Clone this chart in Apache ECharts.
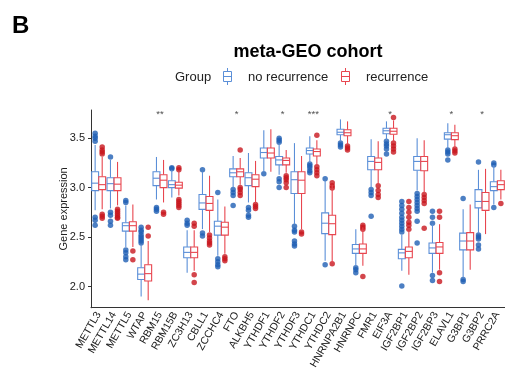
<!DOCTYPE html>
<html>
<head>
<meta charset="utf-8">
<script src="https://cdn.jsdelivr.net/npm/echarts@6/dist/echarts.min.js"></script>
<style>
  html, body { margin: 0; padding: 0; background: #fff; }
  #chart { width: 505px; height: 372px; }
</style>
</head>
<body>
<div id="chart"></div>
<script>
/* ---------- data ---------- */

const genes = [
  'METTL3', 'METTL14', 'METTL5', 'WTAP', 'RBM15', 'RBM15B', 'ZC3H13', 'CBLL1', 'ZCCHC4',
  'FTO', 'ALKBH5', 'YTHDF1', 'YTHDF2', 'YTHDF3', 'YTHDC1', 'YTHDC2', 'HNRNPA2B1', 'HNRNPC',
  'FMR1', 'EIF3A', 'IGF2BP1', 'IGF2BP2', 'IGF2BP3', 'ELAVL1', 'G3BP1', 'G3BP2', 'PRRC2A',
];

// [whisker low, Q1, median, Q3, whisker high]
const noRecurrence = [
  [2.77, 2.97, 3.045, 3.16, 3.43],
  [2.79, 2.97, 3.04, 3.10, 3.28],
  [2.40, 2.56, 2.615, 2.645, 2.82],
  [1.90, 2.07, 2.125, 2.19, 2.42],
  [2.88, 3.02, 3.095, 3.16, 3.31],
  [2.90, 3.00, 3.03, 3.07, 3.18],
  [2.14, 2.29, 2.345, 2.40, 2.57],
  [2.58, 2.78, 2.845, 2.93, 3.16],
  [2.31, 2.52, 2.61, 2.66, 2.88],
  [3.00, 3.11, 3.15, 3.19, 3.32],
  [2.85, 3.02, 3.10, 3.15, 3.35],
  [3.16, 3.30, 3.355, 3.40, 3.58],
  [3.13, 3.23, 3.28, 3.315, 3.44],
  [2.63, 2.94, 3.08, 3.16, 3.45],
  [3.25, 3.34, 3.375, 3.40, 3.52],
  [2.26, 2.535, 2.64, 2.745, 3.07],
  [3.47, 3.535, 3.56, 3.59, 3.69],
  [2.21, 2.335, 2.38, 2.425, 2.58],
  [3.00, 3.18, 3.265, 3.315, 3.49],
  [3.48, 3.545, 3.575, 3.60, 3.67],
  [2.16, 2.28, 2.34, 2.375, 2.52],
  [2.97, 3.175, 3.265, 3.315, 3.50],
  [2.14, 2.335, 2.39, 2.44, 2.63],
  [3.40, 3.49, 3.535, 3.555, 3.65],
  [2.09, 2.37, 2.46, 2.54, 2.78],
  [2.54, 2.795, 2.86, 2.98, 3.18],
  [2.83, 2.97, 3.01, 3.06, 3.23],
];

const recurrence = [
  [2.78, 2.98, 3.03, 3.11, 3.31],
  [2.82, 2.97, 3.035, 3.10, 3.26],
  [2.40, 2.56, 2.615, 2.655, 2.83],
  [1.86, 2.055, 2.13, 2.22, 2.46],
  [2.85, 3.00, 3.075, 3.13, 3.28],
  [2.92, 2.995, 3.025, 3.055, 3.16],
  [2.16, 2.29, 2.345, 2.40, 2.57],
  [2.55, 2.77, 2.84, 2.91, 3.12],
  [2.33, 2.52, 2.60, 2.65, 2.81],
  [3.03, 3.11, 3.16, 3.19, 3.30],
  [2.85, 3.01, 3.085, 3.13, 3.27],
  [3.16, 3.30, 3.35, 3.40, 3.59],
  [3.15, 3.23, 3.275, 3.30, 3.38],
  [2.58, 2.94, 3.075, 3.16, 3.32],
  [3.23, 3.32, 3.365, 3.39, 3.48],
  [2.24, 2.525, 2.635, 2.72, 3.03],
  [3.44, 3.525, 3.555, 3.585, 3.67],
  [2.21, 2.335, 2.38, 2.43, 2.60],
  [3.03, 3.18, 3.255, 3.30, 3.47],
  [3.47, 3.54, 3.57, 3.60, 3.68],
  [2.12, 2.29, 2.355, 2.40, 2.55],
  [2.95, 3.17, 3.265, 3.315, 3.48],
  [2.17, 2.335, 2.40, 2.445, 2.63],
  [3.40, 3.485, 3.525, 3.555, 3.635],
  [2.17, 2.37, 2.46, 2.545, 2.83],
  [2.53, 2.77, 2.86, 2.95, 3.19],
  [2.88, 2.98, 3.03, 3.07, 3.18],
];

const noRecurrenceOutliers = [
  [3.55, 3.52, 3.50, 3.47, 2.70, 2.67, 2.62],
  [3.31, 2.75, 2.72, 2.66, 2.62],
  [2.87, 2.85, 2.37, 2.34, 2.30, 2.27],
  [2.60, 2.57, 2.55, 2.52, 2.50, 2.48, 2.46, 2.44],
  [2.80, 2.78, 2.76],
  [3.20, 3.19],
  [2.67, 2.64, 2.62],
  [3.18, 2.54, 2.51],
  [2.95, 2.28, 2.25, 2.22, 2.20],
  [2.98, 2.95, 2.92, 2.82],
  [2.80, 2.77, 2.72, 2.70],
  [3.14],
  [3.50, 3.48, 3.46, 3.09, 3.06, 3.00],
  [2.61, 2.57, 2.55, 2.46, 2.43, 2.41],
  [3.24, 3.22, 3.20, 3.17, 3.15],
  [3.09, 2.22],
  [3.45, 3.43, 3.41],
  [2.19, 2.17, 2.14],
  [2.98, 2.95, 2.92, 2.71],
  [3.47, 3.44, 3.42, 3.39, 3.34],
  [2.86, 2.82, 2.78, 2.74, 2.70, 2.67, 2.64, 2.61, 2.58, 2.55, 2.005],
  [2.94, 2.91, 2.88, 2.85, 2.82, 2.79, 2.76, 2.66, 2.44],
  [2.76, 2.70, 2.64, 2.11, 2.06],
  [3.38, 3.36, 3.34, 3.28],
  [2.89, 2.07, 2.05],
  [3.26, 2.52, 2.50, 2.48, 2.42, 2.38],
  [3.25, 3.23, 2.80],
];

const recurrenceOutliers = [
  [3.41, 3.38, 3.36, 3.34, 2.73, 2.71, 2.69],
  [2.78, 2.76, 2.74, 2.72, 2.70, 2.69],
  [2.36, 2.27],
  [2.60, 2.51],
  [2.75, 2.73],
  [3.20, 3.18, 2.88, 2.86, 2.84, 2.82, 2.80],
  [2.64, 2.61, 2.12, 2.04],
  [2.52, 2.49, 2.46, 2.44, 2.42],
  [2.30, 2.28, 2.26],
  [3.38, 3.00, 2.98, 2.95, 2.92],
  [2.83, 2.81, 2.79],
  [],
  [3.12, 3.10, 3.08, 3.05, 3.00],
  [2.55, 2.53],
  [3.53, 3.21, 3.18, 3.15, 3.12],
  [3.05, 3.02, 2.995, 2.23],
  [3.42, 3.40, 3.38],
  [2.62, 2.60, 2.58, 2.10],
  [3.02, 2.97, 2.93, 2.90],
  [3.71, 3.45, 3.42, 3.39, 3.36],
  [2.86, 2.80, 2.75, 2.70, 2.65, 2.62, 2.58],
  [2.93, 2.90, 2.87, 2.84, 2.59],
  [2.76, 2.70, 2.14, 2.05],
  [3.39, 3.37, 3.35],
  [],
  [],
  [2.84],
];

const signifGenes = ['RBM15', 'FTO', 'YTHDF2', 'YTHDC1', 'EIF3A', 'ELAVL1', 'G3BP2'];
const signifMarks = ['**', '*', '*', '***', '*', '*', '*'];
const yTicks = [2.0, 2.5, 3.0, 3.5];

/* ---------- style ---------- */

const FONT = '"Liberation Sans", Arial, sans-serif';
const BLUE_LINE = '#5b8fd8';
const BLUE_DOT = '#1f5fb4';
const RED_LINE = '#e8464f';
const RED_DOT = '#c8161e';
const TEXT = '#222';
const AXIS = '#333';

const GRID = { left: 91, right: 0, top: 110, bottom: 64 };
const BAND = (505 - GRID.left - GRID.right) / genes.length;
const DODGE = 0.23;

/* ---------- helpers ---------- */

function boxRenderer(side, color) {
  return (params, api) => {
    const i = api.value(0);
    const band = api.size([1, 0])[0];
    const cx = api.coord([i, api.value(3)])[0] + side * band * DODGE;
    const hw = band * 0.225;
    const y = (k) => api.coord([i, api.value(k)])[1];
    const yLow = y(1), yQ1 = y(2), yMed = y(3), yQ3 = y(4), yHigh = y(5);
    const line = { stroke: color, lineWidth: 1.1 };
    return {
      type: 'group',
      children: [
        { type: 'line', shape: { x1: cx, y1: yHigh, x2: cx, y2: yQ3 }, style: line },
        { type: 'line', shape: { x1: cx, y1: yQ1, x2: cx, y2: yLow }, style: line },
        {
          type: 'rect',
          shape: { x: cx - hw, y: yQ3, width: hw * 2, height: yQ1 - yQ3 },
          style: { fill: '#fff', stroke: color, lineWidth: 1.1 },
        },
        { type: 'line', shape: { x1: cx - hw, y1: yMed, x2: cx + hw, y2: yMed }, style: line },
      ],
    };
  };
}

const toRows = (stats) => stats.map((s, i) => [i, ...s]);
const toPoints = (lists) => lists.flatMap((vals, i) => vals.map((v) => [i, v]));

function legendIcon(x, color) {
  const cx = x + 4;
  const line = { stroke: color, lineWidth: 1 };
  return {
    type: 'group',
    children: [
      { type: 'line', shape: { x1: cx, y1: 68, x2: cx, y2: 71.5 }, style: line },
      { type: 'line', shape: { x1: cx, y1: 81.5, x2: cx, y2: 85 }, style: line },
      { type: 'rect', shape: { x: x, y: 71.5, width: 8, height: 10 }, style: { fill: '#fff', stroke: color, lineWidth: 1 } },
      { type: 'line', shape: { x1: x, y1: 76.5, x2: x + 8, y2: 76.5 }, style: line },
    ],
  };
}

/* ---------- chart ---------- */

const chart = echarts.init(document.getElementById('chart'), null, { renderer: 'canvas' });

chart.setOption({
  animation: false,
  backgroundColor: '#fff',
  textStyle: { fontFamily: FONT },
  grid: GRID,
  xAxis: {
    type: 'category',
    data: genes,
    boundaryGap: true,
    axisLine: { lineStyle: { color: AXIS, width: 1 } },
    axisTick: { alignWithLabel: true, length: 3, lineStyle: { color: AXIS } },
    axisLabel: { rotate: 60, interval: 0, fontSize: 10.5, margin: 5, color: TEXT, fontFamily: FONT },
    splitLine: { show: false },
  },
  yAxis: {
    type: 'value',
    min: 1.785,
    max: 3.785,
    name: 'Gene expression',
    nameLocation: 'middle',
    nameGap: 22,
    nameMoveOverlap: false,
    nameTextStyle: { fontSize: 11, color: TEXT, fontFamily: FONT },
    axisLine: { show: true, lineStyle: { color: AXIS, width: 1 } },
    axisTick: { show: true, length: 3, customValues: yTicks, lineStyle: { color: AXIS } },
    axisLabel: {
      customValues: yTicks,
      formatter: (v) => v.toFixed(1),
      fontSize: 11,
      margin: 6,
      color: TEXT,
      fontFamily: FONT,
    },
    splitLine: { show: false },
  },
  series: [
    {
      name: 'no recurrence outliers',
      type: 'scatter',
      data: toPoints(noRecurrenceOutliers),
      symbolSize: 5.5,
      symbolOffset: [-BAND * DODGE, 0],
      itemStyle: { color: BLUE_DOT },
      z: 1,
    },
    {
      name: 'no recurrence',
      type: 'custom',
      data: toRows(noRecurrence),
      encode: { x: 0, y: [1, 2, 3, 4, 5] },
      renderItem: boxRenderer(-1, BLUE_LINE),
      z: 2,
    },
    {
      name: 'recurrence outliers',
      type: 'scatter',
      data: toPoints(recurrenceOutliers),
      symbolSize: 5.5,
      symbolOffset: [BAND * DODGE, 0],
      itemStyle: { color: RED_DOT },
      z: 3,
    },
    {
      name: 'recurrence',
      type: 'custom',
      data: toRows(recurrence),
      encode: { x: 0, y: [1, 2, 3, 4, 5] },
      renderItem: boxRenderer(1, RED_LINE),
      z: 4,
    },
    {
      name: 'signif',
      type: 'scatter',
      data: signifGenes.map((g, k) => [genes.indexOf(g), 3.74, signifMarks[k]]),
      symbolSize: 1,
      itemStyle: { color: 'transparent' },
      label: {
        show: true,
        position: 'inside',
        formatter: (p) => p.value[2],
        fontSize: 9.5,
        color: TEXT,
        fontFamily: FONT,
      },
      z: 5,
    },
  ],
  graphic: [
    { type: 'text', x: 12, y: 14, style: { text: 'B', font: 'bold 24px ' + FONT, fill: '#000' } },
    {
      type: 'text', x: 308, y: 52,
      style: { text: 'meta-GEO cohort', font: 'bold 18px ' + FONT, fill: '#000', align: 'center', verticalAlign: 'middle' },
    },
    { type: 'text', x: 175, y: 77, style: { text: 'Group', font: '13px ' + FONT, fill: TEXT, verticalAlign: 'middle' } },
    legendIcon(223.5, BLUE_LINE),
    { type: 'text', x: 248, y: 77, style: { text: 'no recurrence', font: '13px ' + FONT, fill: TEXT, verticalAlign: 'middle' } },
    legendIcon(341.5, RED_LINE),
    { type: 'text', x: 366, y: 77, style: { text: 'recurrence', font: '13px ' + FONT, fill: TEXT, verticalAlign: 'middle' } },
  ],
});
</script>
</body>
</html>
